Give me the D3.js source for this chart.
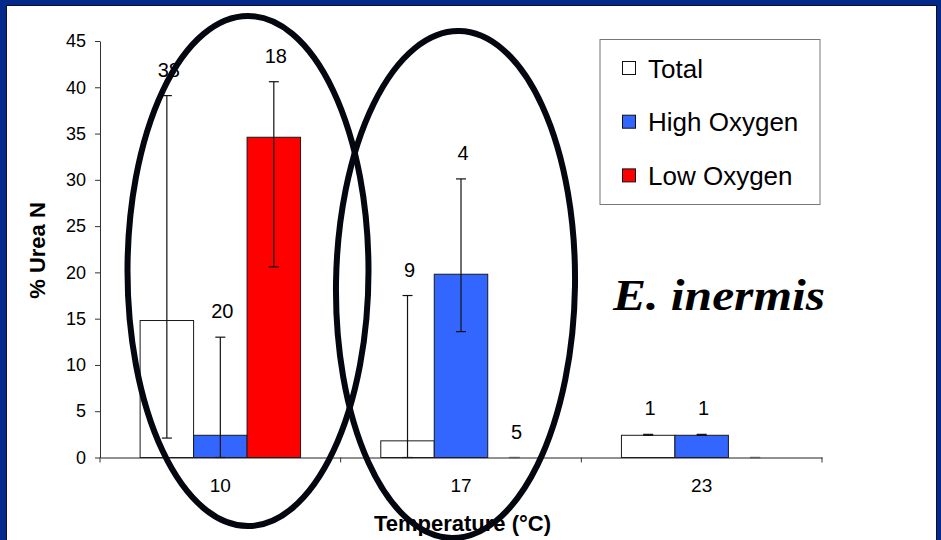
<!DOCTYPE html>
<html>
<head>
<meta charset="utf-8">
<script src="https://cdn.jsdelivr.net/npm/d3@7"></script>
<style>
  html, body { margin: 0; padding: 0; background: #03298a; }
  svg { display: block; }
  text { font-family: "Liberation Sans", Arial, sans-serif; fill: #000; }
</style>
</head>
<body>
<script>
// ---- data ----
const categories = ["10", "17", "23"];
const seriesNames = ["Total", "High Oxygen", "Low Oxygen"];
const seriesColors = ["#FFFFFF", "#3366FF", "#FF0000"];
const totalValues = [14.8, 1.8, 2.4];
const highValues  = [2.4, 19.8, 2.4];
const lowValues   = [34.6, 0, 0];
const totalErrLow  = [2.1, 0, 2.4];
const totalErrHigh = [39.1, 17.5, 2.5];
const highErrLow   = [0, 13.6, 2.4];
const highErrHigh  = [13.0, 30.1, 2.5];
const lowErrLow    = [20.6, 0, 0];
const lowErrHigh   = [40.6, 0, 0];
const totalN = ["38", "9", "1"];
const highN  = ["20", "4", "1"];
const lowN   = ["18", "5", ""];
const yTicks = [0, 5, 10, 15, 20, 25, 30, 35, 40, 45];

const W = 941, H = 540;
const svg = d3.select("body").append("svg").attr("width", W).attr("height", H);

// navy frame + white panel
svg.append("rect").attr("x", 0).attr("y", 0).attr("width", W).attr("height", H).attr("fill", "#03298a");
svg.append("rect").attr("x", 6).attr("y", 5).attr("width", 931).attr("height", H).attr("fill", "#0a0f2a");
svg.append("rect").attr("x", 7).attr("y", 6).attr("width", 929).attr("height", H).attr("fill", "#FFFFFF");

const x0 = d3.scaleBand().domain(categories).range([100, 822]).paddingInner(0).paddingOuter(0);
const x1 = d3.scaleBand().domain(seriesNames).range([0, x0.bandwidth()]).paddingInner(0).paddingOuter(0.75);
const y = d3.scaleLinear().domain([0, 45]).range([457.5, 41]);

const seriesData = [
  { name: seriesNames[0], color: seriesColors[0], values: totalValues, lo: totalErrLow, hi: totalErrHigh, n: totalN },
  { name: seriesNames[1], color: seriesColors[1], values: highValues,  lo: highErrLow,  hi: highErrHigh,  n: highN },
  { name: seriesNames[2], color: seriesColors[2], values: lowValues,   lo: lowErrLow,   hi: lowErrHigh,   n: lowN }
];

const rows = [];
seriesData.forEach(s => categories.forEach((c, i) => rows.push({
  cat: c, series: s.name, color: s.color, v: s.values[i], lo: s.lo[i], hi: s.hi[i], n: s.n[i]
})));

// bars
const g = svg.append("g");
g.selectAll("rect.bar").data(rows.filter(d => d.v > 0)).join("rect")
  .attr("class", "bar")
  .attr("x", d => x0(d.cat) + x1(d.series))
  .attr("y", d => y(d.v))
  .attr("width", x1.bandwidth())
  .attr("height", d => y(0) - y(d.v))
  .attr("fill", d => d.color)
  .attr("stroke", "#1a1a1a")
  .attr("stroke-width", 1);

// error bars
const cx = d => x0(d.cat) + x1(d.series) + x1.bandwidth() / 2;
const eb = g.selectAll("g.err").data(rows).join("g").attr("class", "err")
  .attr("stroke", "#111").attr("stroke-width", 1.2);
eb.append("line").attr("x1", cx).attr("x2", cx).attr("y1", d => y(d.lo)).attr("y2", d => y(d.hi));
eb.append("line").attr("x1", d => cx(d) - 5).attr("x2", d => cx(d) + 5).attr("y1", d => y(d.hi)).attr("y2", d => y(d.hi));
eb.append("line").attr("x1", d => cx(d) - 5).attr("x2", d => cx(d) + 5).attr("y1", d => y(d.lo)).attr("y2", d => y(d.lo))
  .attr("stroke", d => d.hi === d.lo && d.v === 0 ? "#999" : "#111");

// n labels
g.selectAll("text.n").data(rows.filter(d => d.n !== "")).join("text")
  .attr("class", "n")
  .attr("x", d => cx(d) + 2)
  .attr("y", d => y(Math.max(d.hi, d.v)) - 19)
  .attr("text-anchor", "middle")
  .attr("font-size", 20)
  .text(d => d.n);

// y axis
const yAxis = svg.append("g").attr("transform", "translate(100,0)")
  .call(d3.axisLeft(y).tickValues(yTicks).tickSize(5).tickSizeOuter(0).tickPadding(9));
yAxis.selectAll("text").attr("font-size", 18).attr("font-family", "Liberation Sans, Arial, sans-serif").attr("fill", "#000");
yAxis.selectAll("line, path").attr("stroke", "#333");

// x axis
const xAxis = svg.append("g").attr("transform", `translate(0,${y(0)})`)
  .call(d3.axisBottom(x0).tickSize(0).tickPadding(21));
xAxis.selectAll("text").attr("font-size", 19).attr("font-family", "Liberation Sans, Arial, sans-serif").attr("fill", "#000");
xAxis.select("path").attr("stroke", "#222");
const edges = categories.map(c => x0(c)).concat([x0(categories[categories.length - 1]) + x0.bandwidth()]);
svg.append("g").selectAll("line").data(edges).join("line")
  .attr("x1", d => d).attr("x2", d => d).attr("y1", y(0)).attr("y2", y(0) + 5)
  .attr("stroke", "#333");

// axis titles
svg.append("text").attr("transform", "translate(45,250.5) rotate(-90)")
  .attr("text-anchor", "middle").attr("font-size", 22).attr("font-weight", "bold").text("% Urea N");
svg.append("text").attr("x", 462.5).attr("y", 531)
  .attr("text-anchor", "middle").attr("font-size", 22).attr("font-weight", "bold").text("Temperature (°C)");

// legend
const lg = svg.append("g");
lg.append("rect").attr("x", 600).attr("y", 39.5).attr("width", 220).attr("height", 165)
  .attr("fill", "#fff").attr("stroke", "#777").attr("stroke-width", 1);
const li = lg.selectAll("g.li").data(seriesData).join("g").attr("class", "li")
  .attr("transform", (d, i) => `translate(0,${77.5 + i * 53.7})`);
li.append("rect").attr("x", 622.5).attr("y", -16).attr("width", 13).attr("height", 13)
  .attr("fill", d => d.color).attr("stroke", "#111").attr("stroke-width", 1);
li.append("text").attr("x", 648).attr("y", 0).attr("font-size", 26).text(d => d.name);

// species label
svg.append("text").attr("x", 613).attr("y", 310)
  .attr("font-weight", "bold").attr("font-style", "italic")
  .attr("font-size", 44).attr("textLength", 212).attr("lengthAdjust", "spacingAndGlyphs")
  .style("font-family", "'Liberation Serif', 'Times New Roman', serif")
  .text("E. inermis");

// ellipses (drawn on top)
svg.append("ellipse").attr("cx", 248).attr("cy", 271).attr("rx", 120.5).attr("ry", 255)
  .attr("fill", "none").attr("stroke", "#04070f").attr("stroke-width", 6);
svg.append("ellipse").attr("cx", 0).attr("cy", 0).attr("rx", 119.5).attr("ry", 253.5)
  .attr("transform", "translate(455.5,284.5) rotate(0.8)")
  .attr("fill", "none").attr("stroke", "#04070f").attr("stroke-width", 6);
</script>
</body>
</html>
